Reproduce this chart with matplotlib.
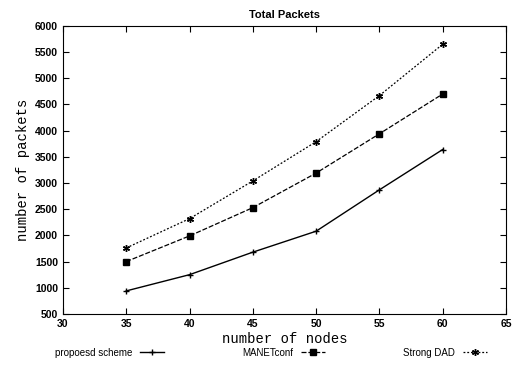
import matplotlib.pyplot as plt

nodes = [35, 40, 45, 50, 55, 60]
proposed = [940, 1250, 1680, 2080, 2870, 3640]
manetconf = [1500, 1990, 2530, 3190, 3940, 4700]
strong_dad = [1760, 2320, 3040, 3790, 4670, 5650]

fig = plt.figure(figsize=(5.2, 3.76), dpi=100)
ax = fig.add_axes([0.121, 0.165, 0.852, 0.766])

ax.plot(nodes, proposed, color="black", linewidth=1.0, linestyle="-",
        marker="+", markersize=5, label="propoesd scheme")
ax.plot(nodes, manetconf, color="black", linewidth=0.9, linestyle=(0, (4, 1.5)),
        marker="s", markersize=4, label="MANETconf")
ax.plot(nodes, strong_dad, color="black", linewidth=0.9, linestyle=(0, (1.5, 1.5)),
        marker=(6, 2, 0), markersize=5, label="Strong DAD")

ax.set_xlim(30, 65)
ax.set_ylim(500, 6000)
ax.set_xticks(range(30, 66, 5))
ax.set_yticks(range(500, 6001, 500))
ax.tick_params(direction="in", top=True, right=True, length=4, labelsize=7.5)
for lab in ax.get_xticklabels() + ax.get_yticklabels():
    lab.set_family("Liberation Sans")
    lab.set_fontweight("bold")

ax.set_title("Total Packets", fontsize=8, fontweight="bold", family="Liberation Sans", pad=6)
ax.set_xlabel("number of nodes", fontsize=10, family="Liberation Mono", labelpad=2)
ax.set_ylabel("number of packets", fontsize=10, family="Liberation Mono", labelpad=4)

fig.legend(loc="center", bbox_to_anchor=(0.521, 0.062), ncol=3, frameon=False,
           markerfirst=False, prop={"family": "Liberation Sans", "size": 7},
           columnspacing=8, handlelength=2.5, handletextpad=0.8)

fig.savefig("out.png", dpi=100)
